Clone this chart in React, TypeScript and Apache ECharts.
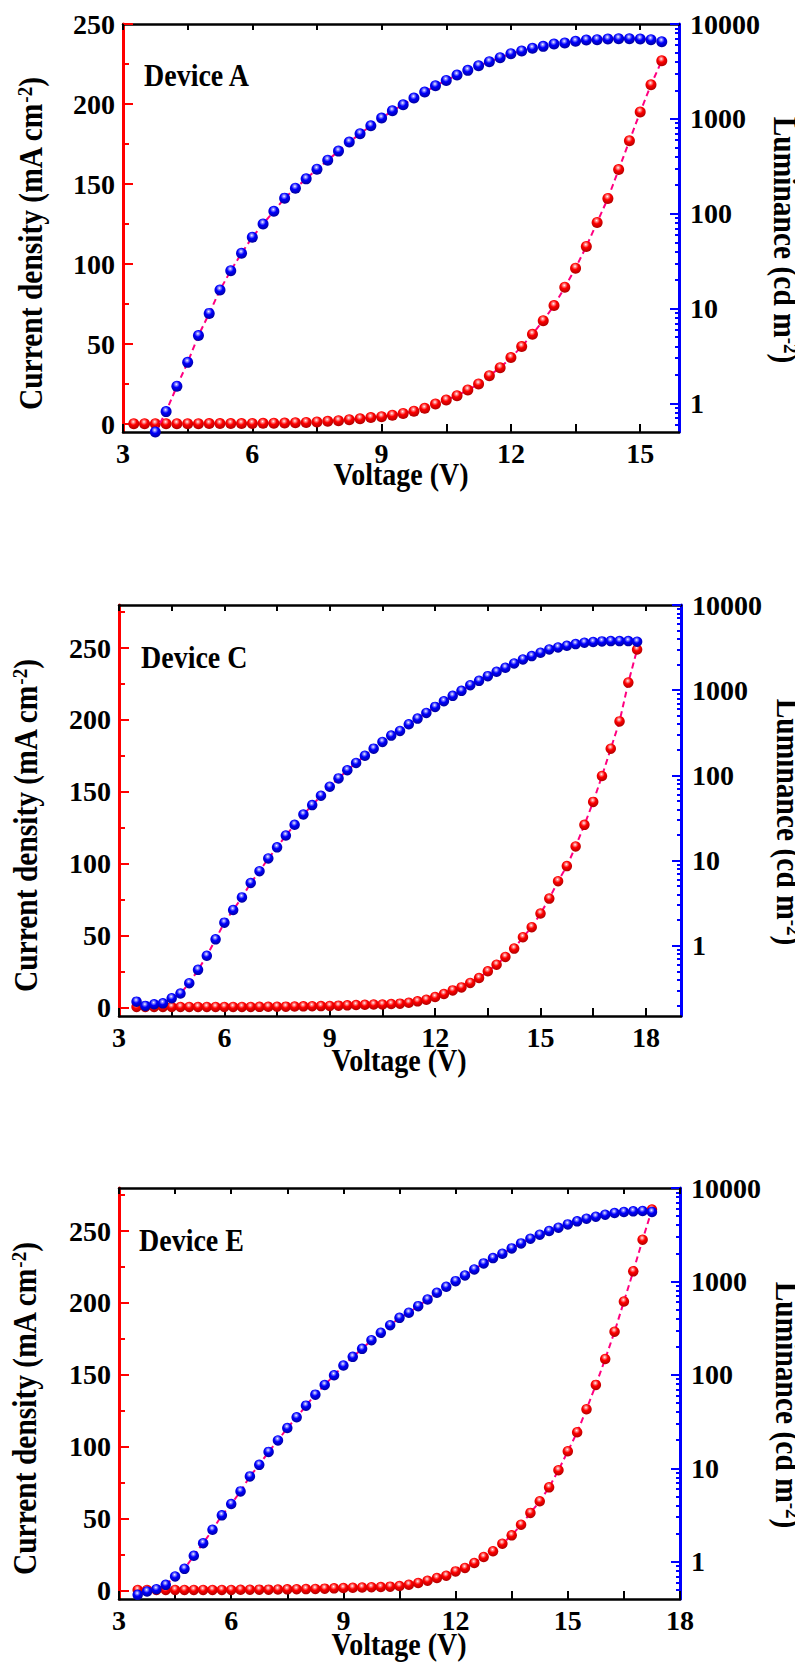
import React, { useEffect, useRef } from 'react';
import * as echarts from 'echarts';

// ---------------- DATA ----------------
// Device A
const voltageA_J = [3.25, 3.5, 3.75, 4, 4.25, 4.5, 4.75, 5, 5.25, 5.5, 5.75, 6, 6.25, 6.5, 6.75, 7, 7.25, 7.5, 7.75, 8, 8.25, 8.5, 8.75, 9, 9.25, 9.5, 9.75, 10, 10.25, 10.5, 10.75, 11, 11.25, 11.5, 11.75, 12, 12.25, 12.5, 12.75, 13, 13.25, 13.5, 13.75, 14, 14.25, 14.5, 14.75, 15, 15.25, 15.5];
const currentA = [0.2, 0.2, 0.2, 0.2, 0.2, 0.2, 0.2, 0.25, 0.25, 0.3, 0.3, 0.35, 0.4, 0.5, 0.6, 0.8, 1.0, 1.3, 1.7, 2.1, 2.7, 3.3, 4.0, 4.6, 5.5, 6.6, 8.0, 9.8, 12.5, 15, 17.7, 21.3, 25, 30.2, 35.2, 41.5, 48.4, 56.1, 64.6, 74, 85.5, 97.4, 111, 126, 141, 159, 177, 195, 212, 227];
const voltageA_L = [3.75, 4, 4.25, 4.5, 4.75, 5, 5.25, 5.5, 5.75, 6, 6.25, 6.5, 6.75, 7, 7.25, 7.5, 7.75, 8, 8.25, 8.5, 8.75, 9, 9.25, 9.5, 9.75, 10, 10.25, 10.5, 10.75, 11, 11.25, 11.5, 11.75, 12, 12.25, 12.5, 12.75, 13, 13.25, 13.5, 13.75, 14, 14.25, 14.5, 14.75, 15, 15.25, 15.5];
const luminanceA = [0.5, 0.82, 1.52, 2.71, 5.2, 8.9, 15.7, 25.1, 38.3, 56.5, 78, 106, 146, 186, 233, 295, 367, 457, 569, 697, 846, 1019, 1217, 1408, 1656, 1915, 2234, 2543, 2896, 3245, 3633, 4006, 4417, 4868, 5193, 5540, 5810, 6150, 6305, 6564, 6778, 6840, 6950, 7000, 7000, 6950, 6840, 6510];

// Device C
const voltageC = [3.5, 3.75, 4, 4.25, 4.5, 4.75, 5, 5.25, 5.5, 5.75, 6, 6.25, 6.5, 6.75, 7, 7.25, 7.5, 7.75, 8, 8.25, 8.5, 8.75, 9, 9.25, 9.5, 9.75, 10, 10.25, 10.5, 10.75, 11, 11.25, 11.5, 11.75, 12, 12.25, 12.5, 12.75, 13, 13.25, 13.5, 13.75, 14, 14.25, 14.5, 14.75, 15, 15.25, 15.5, 15.75, 16, 16.25, 16.5, 16.75, 17, 17.25, 17.5, 17.75];
const currentC = [0.3, 0.3, 0.3, 0.3, 0.3, 0.3, 0.3, 0.3, 0.3, 0.3, 0.3, 0.3, 0.3, 0.3, 0.35, 0.4, 0.45, 0.5, 0.6, 0.7, 0.8, 0.9, 1.0, 1.2, 1.4, 1.6, 1.8, 2.0, 2.0, 2.3, 2.6, 3.2, 4.2, 5.3, 7.2, 9.3, 11.8, 13.9, 17, 20.4, 25.1, 29.7, 35.1, 40.9, 48.8, 55.8, 65.3, 75.7, 87.8, 98.3, 112, 127, 143, 161, 180, 199, 226, 249];
const luminanceC = [0.221, 0.197, 0.206, 0.211, 0.242, 0.275, 0.364, 0.522, 0.763, 1.19, 1.87, 2.63, 3.7, 5.46, 7.5, 10.6, 14.3, 19.7, 26.3, 34.8, 44.8, 57.7, 73.6, 92.2, 115, 140, 170, 206, 247, 293, 332, 398, 464, 541, 637, 742, 858, 982, 1145, 1288, 1462, 1644, 1832, 2060, 2295, 2512, 2750, 3008, 3175, 3324, 3477, 3606, 3673, 3740, 3769, 3769, 3769, 3707];

// Device E
const voltageE = [3.5, 3.75, 4, 4.25, 4.5, 4.75, 5, 5.25, 5.5, 5.75, 6, 6.25, 6.5, 6.75, 7, 7.25, 7.5, 7.75, 8, 8.25, 8.5, 8.75, 9, 9.25, 9.5, 9.75, 10, 10.25, 10.5, 10.75, 11, 11.25, 11.5, 11.75, 12, 12.25, 12.5, 12.75, 13, 13.25, 13.5, 13.75, 14, 14.25, 14.5, 14.75, 15, 15.25, 15.5, 15.75, 16, 16.25, 16.5, 16.75, 17, 17.25];
const currentE = [0.3, 0.3, 0.3, 0.3, 0.3, 0.3, 0.3, 0.3, 0.3, 0.3, 0.3, 0.4, 0.45, 0.5, 0.5, 0.6, 0.7, 0.8, 0.9, 1.0, 1.2, 1.4, 1.6, 1.8, 2.0, 2.2, 2.3, 2.6, 3.0, 3.9, 5.1, 6.7, 8.6, 10.2, 13.2, 15.6, 19, 23.2, 27.2, 32.5, 38.3, 45.7, 53.9, 62, 71.7, 83.6, 96.8, 110, 126, 143, 161, 180, 201, 222, 244, 265];
const luminanceE = [0.443, 0.481, 0.509, 0.567, 0.697, 0.841, 1.16, 1.58, 2.2, 3.14, 4.15, 5.67, 8.2, 10.9, 15, 19.9, 27, 35.2, 46.9, 61.5, 78.1, 99.1, 126, 156, 190, 235, 282, 340, 408, 462, 544, 641, 756, 877, 1008, 1159, 1345, 1560, 1778, 1977, 2258, 2553, 2864, 3162, 3460, 3757, 4080, 4395, 4693, 4930, 5178, 5398, 5534, 5623, 5670, 5534];

// Labels and ticks
const deviceNames = ['Device A', 'Device C', 'Device E'];
const xTitle = 'Voltage (V)';
const xLabelsA = [3, 6, 9, 12, 15];
const xLabelsCE = [3, 6, 9, 12, 15, 18];
const xTicksA = [3, 4.5, 6, 7.5, 9, 10.5, 12, 13.5, 15];
const xTicksCE = [3, 4.5, 6, 7.5, 9, 10.5, 12, 13.5, 15, 16.5, 18];
const jLabels = [0, 50, 100, 150, 200, 250];
const jMinorA = [25, 75, 125, 175, 225];
const jMinorCE = [25, 75, 125, 175, 225, 275];
const lumLabels = [1, 10, 100, 1000, 10000];
const lumMinor = [0.2, 0.3, 0.4, 0.5, 0.6, 0.7, 0.8, 0.9, 2, 3, 4, 5, 6, 7, 8, 9, 20, 30, 40, 50, 60, 70, 80, 90, 200, 300, 400, 500, 600, 700, 800, 900, 2000, 3000, 4000, 5000, 6000, 7000, 8000, 9000];

const FONT = '"Liberation Serif", "Times New Roman", serif';
const RED = '#ff0000';
const BLUE = '#0000ff';
const LINE = '#ff0080';

const panels = [
  {
    vJ: voltageA_J, j: currentA, vL: voltageA_L, l: luminanceA,
    grid: { left: 123, top: 24, width: 556, height: 408 },
    xMax: 15.9, jMin: -5, jMax: 250, lMin: 0.5, lMax: 10000,
    xLabels: xLabelsA, xTicks: xTicksA, jMinor: jMinorA, size: 11,
    yTitle: [31, 244], rTitle: [785, 240], xT: [401, 474], dev: [144, 75],
  },
  {
    vJ: voltageC, j: currentC, vL: voltageC, l: luminanceC,
    grid: { left: 119, top: 605, width: 562, height: 411 },
    xMax: 19, jMin: -6, jMax: 280, lMin: 0.15, lMax: 10000,
    xLabels: xLabelsCE, xTicks: xTicksCE, jMinor: jMinorCE, size: 10.5,
    yTitle: [26, 826], rTitle: [788, 822], xT: [399, 1060], dev: [141, 657],
  },
  {
    vJ: voltageE, j: currentE, vL: voltageE, l: luminanceE,
    grid: { left: 119, top: 1188, width: 561, height: 411 },
    xMax: 18, jMin: -6, jMax: 280, lMin: 0.4, lMax: 10000,
    xLabels: xLabelsCE, xTicks: xTicksCE, jMinor: jMinorCE, size: 10.5,
    yTitle: [25, 1409], rTitle: [787, 1405], xT: [399, 1644], dev: [139, 1240],
  },
];

function sphere(light: string, mid: string, dark: string) {
  return new echarts.graphic.RadialGradient(0.45, 0.33, 0.66, [
    { offset: 0, color: '#ffffff' },
    { offset: 0.14, color: light },
    { offset: 0.45, color: mid },
    { offset: 1, color: dark },
  ]);
}

const labelStyle = { color: '#000', fontSize: 28, fontWeight: 'bold', fontFamily: FONT };
const supStyle = { fontSize: 19, fontWeight: 'bold', fontFamily: FONT, fill: '#000', verticalAlign: 'top', lineHeight: 20 };

export default function App() {
  const ref = useRef<HTMLDivElement>(null);
  useEffect(() => {
    if (!ref.current) return;
    const chart = echarts.init(ref.current, undefined, { renderer: 'svg' });
    const grids: any[] = [];
    const xAxes: any[] = [];
    const yAxes: any[] = [];
    const series: any[] = [];
    const graphics: any[] = [];

    panels.forEach((p, i) => {
      grids.push({ ...p.grid, show: false, containLabel: false, outerBoundsMode: 'none' });
      // bottom x axis
      xAxes.push({
        type: 'value', gridIndex: i, position: 'bottom', min: 3, max: p.xMax,
        axisLine: { show: true, onZero: false, lineStyle: { color: '#000', width: 2.5 } },
        axisTick: { show: true, inside: true, length: 8, customValues: p.xTicks, lineStyle: { color: '#000', width: 2 } },
        axisLabel: { show: true, margin: 7, customValues: p.xLabels, formatter: (v: number) => String(v), ...labelStyle },
        splitLine: { show: false },
      });
      // top x axis
      xAxes.push({
        type: 'value', gridIndex: i, position: 'top', min: 3, max: p.xMax,
        axisLine: { show: true, onZero: false, lineStyle: { color: '#000', width: 2.5 } },
        axisTick: { show: true, inside: true, length: 6, customValues: p.xTicks, lineStyle: { color: '#000', width: 2 } },
        axisLabel: { show: false },
        splitLine: { show: false },
      });
      // left major
      yAxes.push({
        type: 'value', gridIndex: i, position: 'left', min: p.jMin, max: p.jMax,
        axisLine: { show: true, onZero: false, lineStyle: { color: RED, width: 3 } },
        axisTick: { show: true, inside: true, length: 10, customValues: jLabels, lineStyle: { color: RED, width: 2 } },
        axisLabel: { show: true, margin: 8, customValues: jLabels, formatter: (v: number) => String(v), ...labelStyle },
        splitLine: { show: false },
      });
      // left minor
      yAxes.push({
        type: 'value', gridIndex: i, position: 'left', min: p.jMin, max: p.jMax,
        axisLine: { show: false, onZero: false },
        axisTick: { show: true, inside: true, length: 6, customValues: p.jMinor, lineStyle: { color: RED, width: 2 } },
        axisLabel: { show: false },
        splitLine: { show: false },
      });
      // right major (log)
      yAxes.push({
        type: 'log', logBase: 10, gridIndex: i, position: 'right', min: p.lMin, max: p.lMax,
        axisLine: { show: true, onZero: false, lineStyle: { color: BLUE, width: 3 } },
        axisTick: { show: true, inside: true, length: 9, customValues: lumLabels, lineStyle: { color: BLUE, width: 2 } },
        axisLabel: { show: true, margin: 11, customValues: lumLabels, formatter: (v: number) => String(Math.round(v)), ...labelStyle },
        splitLine: { show: false },
      });
      // right minor (log)
      yAxes.push({
        type: 'log', logBase: 10, gridIndex: i, position: 'right', min: p.lMin, max: p.lMax,
        axisLine: { show: false, onZero: false },
        axisTick: { show: true, inside: true, length: 4, customValues: lumMinor.filter((v) => v > p.lMin && v < p.lMax), lineStyle: { color: BLUE, width: 2 } },
        axisLabel: { show: false },
        splitLine: { show: false },
      });

      series.push({
        type: 'line', xAxisIndex: 2 * i, yAxisIndex: 4 * i,
        data: p.vJ.map((v, k) => [v, p.j[k]]),
        symbol: 'circle', symbolSize: p.size, showSymbol: true, showAllSymbol: true,
        lineStyle: { color: LINE, width: 2, type: [6, 4] },
        itemStyle: { color: sphere('#ffa0a0', RED, '#b00000'), borderWidth: 0 },
        silent: true, z: 3,
      });
      series.push({
        type: 'line', xAxisIndex: 2 * i, yAxisIndex: 4 * i + 2,
        data: p.vL.map((v, k) => [v, p.l[k]]),
        symbol: 'circle', symbolSize: p.size, showSymbol: true, showAllSymbol: true,
        lineStyle: { color: LINE, width: 2, type: [6, 4] },
        itemStyle: { color: sphere('#a0a0ff', BLUE, '#0000a0'), borderWidth: 0 },
        silent: true, z: 4,
      });

      graphics.push({
        type: 'text', x: p.yTitle[0], y: p.yTitle[1], rotation: Math.PI / 2, scaleY: 1.15,
        style: {
          text: 'Current density (mA cm{sup|-2})',
          fill: '#000', fontSize: 29.5, fontWeight: 'bold', fontFamily: FONT,
          align: 'center', verticalAlign: 'middle',
          rich: { sup: supStyle },
        },
      });
      graphics.push({
        type: 'text', x: p.rTitle[0], y: p.rTitle[1], rotation: -Math.PI / 2, scaleY: 1.15,
        style: {
          text: 'Luminance (cd m{sup|-2})',
          fill: '#000', fontSize: 29.5, fontWeight: 'bold', fontFamily: FONT,
          align: 'center', verticalAlign: 'middle',
          rich: { sup: supStyle },
        },
      });
      graphics.push({
        type: 'text', x: p.xT[0], y: p.xT[1], scaleY: 1.12,
        style: { text: xTitle, fill: '#000', fontSize: 28, fontWeight: 'bold', fontFamily: FONT, align: 'center', verticalAlign: 'middle' },
      });
      graphics.push({
        type: 'text', x: p.dev[0], y: p.dev[1], scaleY: 1.12,
        style: { text: deviceNames[i], fill: '#000', fontSize: 28, fontWeight: 'bold', fontFamily: FONT, align: 'left', verticalAlign: 'middle' },
      });
    });

    chart.setOption({
      animation: false,
      backgroundColor: '#ffffff',
      grid: grids,
      xAxis: xAxes,
      yAxis: yAxes,
      series,
      graphic: { elements: graphics },
    });
    return () => chart.dispose();
  }, []);

  return (
    <div
      ref={ref}
      style={{ position: 'absolute', left: 0, top: 0, width: 795, height: 1666, background: '#fff' }}
    />
  );
}
